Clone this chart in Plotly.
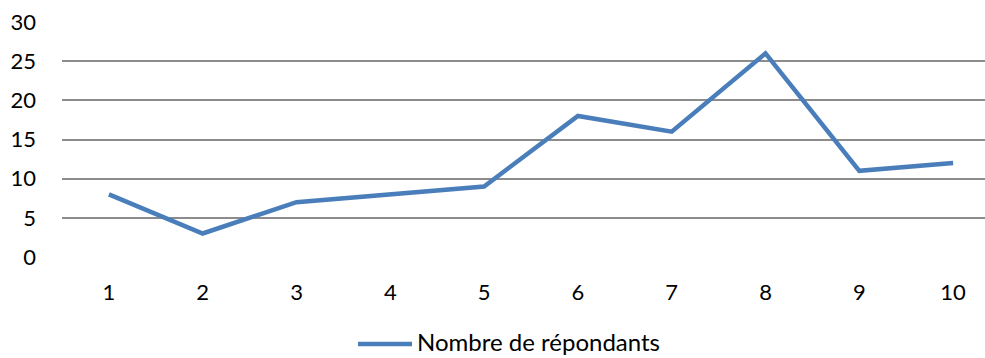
import plotly.graph_objects as go

categories = [1, 2, 3, 4, 5, 6, 7, 8, 9, 10]
respondents = [8, 3, 7, 8, 9, 18, 16, 26, 11, 12]
y_ticks = [0, 5, 10, 15, 20, 25, 30]
series_name = "Nombre de répondants"

FONT = "Lato, 'Open Sans', sans-serif"
LINE_COLOR = "#4a7ebb"

# plot area in pixels, used to place the hand-drawn legend
W, H = 985, 358
L, T, B = 62, 22, 101
plot_w = W - L
plot_h = H - T - B


def px_to_paper_x(px):
    return (px - L) / plot_w


def px_to_paper_y(py):
    return (H - B - py) / plot_h


fig = go.Figure()
fig.add_trace(go.Scatter(
    x=categories,
    y=respondents,
    mode="lines",
    name=series_name,
    line=dict(color=LINE_COLOR, width=4.5),
))

legend_y = 341
fig.add_shape(
    type="line", xref="paper", yref="paper",
    x0=px_to_paper_x(358), x1=px_to_paper_x(412),
    y0=px_to_paper_y(legend_y + 3), y1=px_to_paper_y(legend_y + 3),
    line=dict(color=LINE_COLOR, width=4.5),
)
fig.add_annotation(
    text=series_name, xref="paper", yref="paper",
    x=px_to_paper_x(416), y=px_to_paper_y(legend_y),
    xanchor="left", yanchor="middle", showarrow=False,
    borderpad=0,
    font=dict(family=FONT, size=24, color="#000000"),
)

fig.update_layout(
    width=W,
    height=H,
    margin=dict(l=L, r=0, t=T, b=B),
    paper_bgcolor="white",
    plot_bgcolor="white",
    font=dict(family=FONT, size=22, color="#000000"),
    showlegend=False,
    xaxis=dict(
        range=[0.5, 10.34],
        tickmode="array",
        tickvals=categories,
        ticktext=[str(c) for c in categories],
        showgrid=False,
        zeroline=False,
        showline=False,
        ticks="",
        ticklabelstandoff=20,
    ),
    yaxis=dict(
        range=[0, 30],
        tickmode="array",
        tickvals=y_ticks,
        showgrid=True,
        gridcolor="#8c8c8c",
        gridwidth=1.6,
        zeroline=False,
        showline=False,
        ticks="",
        ticklabelstandoff=25,
    ),
)

fig.write_html("out.html")
